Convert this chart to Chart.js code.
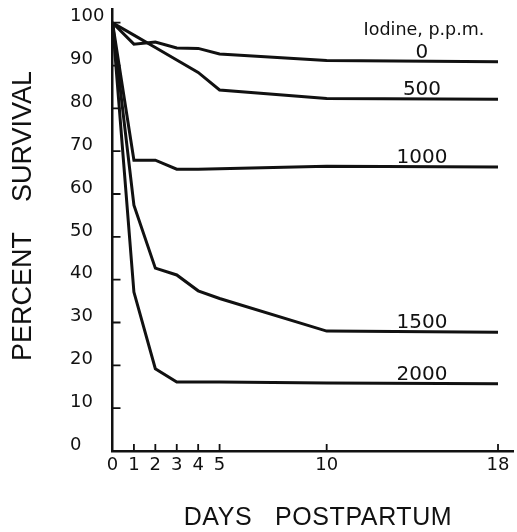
<!DOCTYPE html>
<html>
<head>
<meta charset="utf-8">
<script src="https://cdn.jsdelivr.net/npm/chart.js@4.4.1/dist/chart.umd.min.js"></script>
<style>
    html, body { margin: 0; padding: 0; background: #fff; }
    #wrap { width: 517px; height: 532px; }
</style>
</head>
<body>
<div id="wrap"><canvas id="survivalChart" width="517" height="532"></canvas></div>
<script>
const DAYS = [0, 1, 2, 3, 4, 5, 10, 18];
const X_TICKS = [0, 1, 2, 3, 4, 5, 10, 18];
const Y_TICKS = [0, 10, 20, 30, 40, 50, 60, 70, 80, 90, 100];

const IODINE_0 = [100, 95.0, 95.5, 94.1, 94.0, 92.7, 91.2, 90.9];
const IODINE_500 = [100, 97.1, 94.2, 91.3, 88.4, 84.3, 82.3, 82.1];
const IODINE_1000 = [100, 67.9, 67.9, 65.8, 65.8, 65.9, 66.5, 66.3];
const IODINE_1500 = [100, 57.4, 42.7, 41.1, 37.4, 35.6, 28.0, 27.7];
const IODINE_2000 = [100, 37.1, 19.2, 16.1, 16.1, 16.1, 15.9, 15.7];

const SERIES = [
    { name: "0", values: IODINE_0 },
    { name: "500", values: IODINE_500 },
    { name: "1000", values: IODINE_1000 },
    { name: "1500", values: IODINE_1500 },
    { name: "2000", values: IODINE_2000 }
];

const LEGEND_TITLE = "Iodine, p.p.m.";
const X_TITLE = "DAYS   POSTPARTUM";
const Y_TITLE = "PERCENT    SURVIVAL";

const INK = "#111";
const LABEL_DAY = 14.45;

// small inward tick marks, as drawn on the original figure
const innerTicks = {
    id: "innerTicks",
    afterDraw(chart) {
        const { ctx, chartArea, scales } = chart;
        ctx.save();
        ctx.strokeStyle = INK;
        ctx.lineWidth = 1.8;
        ctx.beginPath();
        scales.y.ticks.forEach(t => {
            if (t.value === 0) return;
            const y = scales.y.getPixelForValue(t.value);
            ctx.moveTo(chartArea.left, y);
            ctx.lineTo(chartArea.left + 8, y);
        });
        scales.x.ticks.forEach(t => {
            if (t.value === 0) return;
            const x = scales.x.getPixelForValue(t.value);
            ctx.moveTo(x, chartArea.bottom);
            ctx.lineTo(x, chartArea.bottom - 7);
        });
        ctx.stroke();
        ctx.restore();
    }
};

// series names written just above the right end of each curve
const curveLabels = {
    id: "curveLabels",
    afterDatasetsDraw(chart) {
        const { ctx, scales } = chart;
        const x = scales.x.getPixelForValue(LABEL_DAY);
        ctx.save();
        ctx.fillStyle = INK;
        ctx.textAlign = "center";
        ctx.textBaseline = "alphabetic";
        ctx.font = "20px 'DejaVu Sans'";
        SERIES.forEach(s => {
            const last = s.values[s.values.length - 1];
            ctx.fillText(s.name, x, scales.y.getPixelForValue(last) - 4);
        });
        ctx.font = "17.5px 'DejaVu Sans'";
        const top = scales.y.getPixelForValue(IODINE_0[IODINE_0.length - 1]);
        ctx.fillText(LEGEND_TITLE, x + 2, top - 27);
        ctx.restore();
    }
};

const axisTitles = {
    id: "axisTitles",
    afterDraw(chart) {
        const { ctx } = chart;
        ctx.save();
        ctx.fillStyle = INK;
        ctx.textAlign = "center";
        ctx.textBaseline = "middle";
        ctx.font = "25px 'Liberation Sans'";
        ctx.letterSpacing = "0.6px";
        ctx.fillText(X_TITLE, 318, 518);
        ctx.translate(24, 216);
        ctx.rotate(-Math.PI / 2);
        ctx.font = "27px 'Liberation Sans'";
        ctx.letterSpacing = "0px";
        ctx.fillText(Y_TITLE, 0, 0);
        ctx.restore();
    }
};

const ctx = document.getElementById("survivalChart").getContext("2d");
const chart = new Chart(ctx, {
    type: "line",
    data: {
        datasets: SERIES.map(s => ({
            label: s.name,
            data: DAYS.map((d, i) => ({ x: d, y: s.values[i] })),
            borderColor: INK,
            borderWidth: 3,
            pointRadius: 0,
            tension: 0,
            fill: false,
            clip: false
        }))
    },
    options: {
        responsive: false,
        animation: false,
        layout: { padding: { left: 70, top: 8, right: 4, bottom: 0 } },
        plugins: {
            legend: { display: false },
            tooltip: { enabled: false }
        },
        scales: {
            x: {
                type: "linear",
                min: 0,
                max: 18.7,
                afterBuildTicks: scale => { scale.ticks = X_TICKS.map(v => ({ value: v })); },
                afterFit: scale => { scale.height = 81; },
                grid: { drawOnChartArea: false, drawTicks: false },
                border: { color: INK, width: 2.5 },
                ticks: {
                    color: INK,
                    padding: 4,
                    maxRotation: 0,
                    autoSkip: false,
                    font: { family: "DejaVu Sans", size: 18 }
                }
            },
            y: {
                min: 0,
                max: 103.2,
                afterBuildTicks: scale => { scale.ticks = Y_TICKS.map(v => ({ value: v })); },
                afterFit: scale => { scale.width = 42.5; },
                grid: { drawOnChartArea: false, drawTicks: false },
                border: { color: INK, width: 2.5 },
                ticks: {
                    color: INK,
                    padding: 0,
                    crossAlign: "far",
                    labelOffset: -6,
                    autoSkip: false,
                    font: { family: "DejaVu Sans", size: 18, lineHeight: 1 }
                }
            }
        }
    },
    plugins: [innerTicks, curveLabels, axisTitles]
});
</script>
</body>
</html>
